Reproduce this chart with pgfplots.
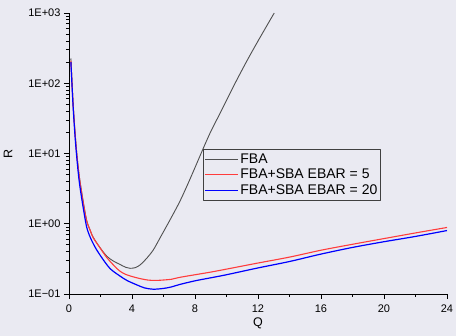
\documentclass[border=0pt]{standalone}
\usepackage{fontspec}
\setmainfont{Liberation Sans}
\usepackage{pgfplots}
\pgfplotsset{compat=1.18}
\definecolor{bg}{RGB}{234,234,242}
\definecolor{fbagray}{RGB}{80,80,80}
\definecolor{fbared}{RGB}{255,60,60}
\definecolor{fbablue}{RGB}{0,0,255}
\definecolor{leggray}{RGB}{64,64,64}
\begin{document}
\begin{tikzpicture}[x=1pt,y=1pt]
\fill[bg] (0,0) rectangle (456,336);
\useasboundingbox (0,0) rectangle (456,336);
\begin{axis}[
  at={(69pt,42pt)}, anchor=south west,
  scale only axis, width=378pt, height=281pt,
  xmin=0, xmax=24, ymin=0.1, ymax=1000,
  ymode=log,
  axis x line=bottom, axis y line=left,
  axis line style={black, line width=0.9pt, -},
  xtick={0,4,...,24},
  minor x tick num=1,
  ytick={0.1,1,10,100,1000},
  yticklabels={1E−01,1E+00,1E+01,1E+02,1E+03},
  tick align=outside,
  major tick length=5pt, minor tick length=3pt,
  every tick/.style={black, line width=0.8pt},
  /pgf/number format/assume math mode=true,
  ticklabel style={font=\fontsize{11}{13}\selectfont},
  xticklabel style={yshift=-2pt},
  xlabel={Q}, ylabel={R},
  label style={font=\fontsize{12.5}{14}\selectfont},
  xlabel style={at={(axis description cs:0.5,-0.1032)}, anchor=center},
  ylabel style={at={(axis description cs:-0.1614,0.5)}, anchor=center},
  legend style={at={(rel axis cs:0.354,0.516)}, anchor=north west,
    fill=bg, draw=leggray, line width=0.8pt,
    font=\fontsize{14}{16}\selectfont,
    inner xsep=1pt, inner ysep=2pt, row sep=0.5pt,
    cells={anchor=west}},
  legend image code/.code={\draw[#1, sharp plot] (0pt,0pt) -- (33pt,0pt);},
  line join=round,
]
\addplot[fbagray, line width=0.9pt, smooth, tension=0.5] coordinates {
(0.12,225) (0.20,95) (0.27,47) (0.38,20.5) (0.49,10.2) (0.60,6.0) (0.70,4.0)
(0.90,2.1) (1.12,1.12) (1.35,0.8) (1.54,0.64) (1.93,0.47) (2.4,0.345)
(2.81,0.295) (3.24,0.263) (3.6,0.24) (3.87,0.232) (4.2,0.237) (4.51,0.259)
(4.9,0.316) (5.35,0.423) (5.8,0.64) (6.41,1.13) (7.0,2.0) (7.47,3.37)
(8.0,6.3) (8.5,11.5) (9.0,20.5) (9.59,37.3) (10.0,57) (10.65,111)
(11.3,209) (11.92,371) (12.5,624) (13.03,1000)
};
\addlegendentry{FBA}
\addplot[fbared, line width=1.1pt, smooth, tension=0.5] coordinates {
(0.12,210) (0.20,90) (0.27,46) (0.38,20) (0.49,10) (0.60,5.8) (0.70,3.9)
(0.90,2.0) (1.12,1.1) (1.35,0.8) (1.54,0.63) (1.93,0.468) (2.4,0.33)
(3.03,0.231) (3.24,0.211) (3.6,0.19) (4.30,0.17) (5.0,0.158) (5.57,0.156)
(6.5,0.162) (7.0,0.172) (8.0,0.188) (9.0,0.205) (10.0,0.226) (12.0,0.276)
(14.0,0.335) (16.0,0.42) (18.0,0.51) (20.0,0.615) (22.0,0.74) (24.0,0.885)
};
\addlegendentry{FBA+SBA EBAR = 5}
\addplot[fbablue, line width=1.2pt, smooth, tension=0.5] coordinates {
(0.12,200) (0.20,85) (0.27,43) (0.38,18) (0.49,9.0) (0.60,5.0) (0.70,3.3)
(0.90,1.7) (1.12,0.9) (1.35,0.64) (1.65,0.468) (2.0,0.35) (2.6,0.231)
(3.24,0.18) (3.7,0.155) (4.30,0.135) (4.8,0.122) (5.35,0.117) (6.0,0.120)
(6.5,0.126) (7.0,0.136) (8.0,0.154) (9.0,0.170) (10.0,0.188) (12.0,0.235)
(14.0,0.29) (16.0,0.37) (18.0,0.46) (20.0,0.555) (22.0,0.66) (24.0,0.80)
};
\addlegendentry{FBA+SBA EBAR = 20}
\end{axis}
\end{tikzpicture}
\end{document}
